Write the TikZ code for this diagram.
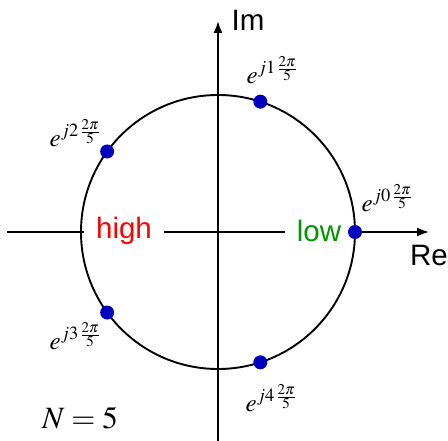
\documentclass[tikz,border=0pt]{standalone}
\usepackage{mathptmx}
\usepackage{fontspec}
\setmainfont{Liberation Sans}
\usetikzlibrary{arrows.meta,calc}
\definecolor{dotblue}{RGB}{0,0,190}
\definecolor{highred}{RGB}{255,0,0}
\definecolor{lowgreen}{RGB}{0,150,0}
\begin{document}
\begin{tikzpicture}[x=1pt,y=-1pt,
  axis/.style={line width=1.8pt,-{Latex[length=12pt,width=9pt]}},
  unit/.style={line width=1.9pt},
  root/.style={circle,fill=dotblue,inner sep=0pt,minimum size=14pt},
  band/.style={fill=white,inner xsep=12pt,inner ysep=2pt,font=\fontsize{29.5}{32}\selectfont},
  axlabel/.style={font=\fontsize{29.5}{32}\selectfont,inner sep=0pt},
  rootlabel/.style={font=\fontsize{25}{29}\selectfont,inner sep=0pt}]
\useasboundingbox (0,0) rectangle (448,441);
\coordinate (C) at (218,232);
\coordinate (xl) at (7,232);
\coordinate (xr) at (429,232);
\coordinate (yb) at (218,441);
\coordinate (yt) at (218,21);
\draw[axis] (xl) -- (xr);
\draw[axis] (yb) -- (yt);
\node[band,text=highred] (high) at (124,231) {high};
\node[band,text=lowgreen] (low) at (319,231) {low};
\draw[unit] (C) circle[radius=137];
\foreach \k in {0,...,4}{
  \node[root] (p\k) at ($(C)+({72*\k}:137 and -137)$) {};
}
\node[axlabel] (im) at (248,20) {Im};
\node[axlabel] (re) at (429,255) {Re};
\node[rootlabel] (l0) at (387,198) {$e^{j0\,\frac{2\pi}{5}}$};
\node[rootlabel] (l1) at (272,70) {$e^{j1\,\frac{2\pi}{5}}$};
\node[rootlabel] (l2) at (75,133) {$e^{j2\,\frac{2\pi}{5}}$};
\node[rootlabel] (l3) at (75,336) {$e^{j3\,\frac{2\pi}{5}}$};
\node[rootlabel] (l4) at (271,398) {$e^{j4\,\frac{2\pi}{5}}$};
\node[font=\fontsize{31}{34}\selectfont,inner sep=0pt] (N) at (80,418) {$N=5$};
\end{tikzpicture}
\end{document}
